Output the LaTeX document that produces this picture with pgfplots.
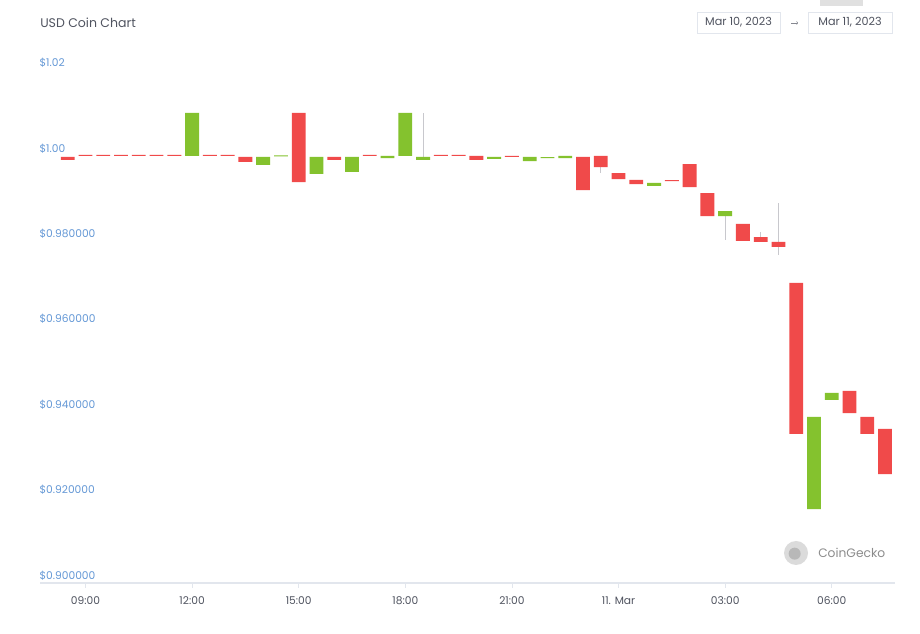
\documentclass[border=0pt]{standalone}
\usepackage{pgfplots}
\pgfplotsset{compat=1.18}
\usepackage{pgfplotstable}
\usetikzlibrary{arrows.meta}
\usepackage{fontspec}
\setmainfont{Poppins}
\definecolor{cgreen}{RGB}{132,194,46}
\definecolor{cred}{RGB}{240,74,74}
\definecolor{ylab}{RGB}{100,152,214}
\definecolor{txt}{RGB}{80,84,96}
\definecolor{axl}{RGB}{226,230,237}
\definecolor{wick}{RGB}{200,200,205}

\pgfplotstableread{
t    o      c      g
8.5  0.9998 0.9991 0
9.0  1.0000 1.0000 0
9.5  1.0000 1.0000 0
10.0 1.0000 1.0000 0
10.5 1.0000 1.0000 0
11.0 1.0000 1.0000 0
11.5 1.0000 1.0000 0
12.0 1.0000 1.0101 1
12.5 1.0000 1.0000 0
13.0 1.0000 1.0000 0
13.5 0.9998 0.9986 0
14.0 0.9979 0.9998 1
14.5 0.9999 0.9999 1
15.0 1.0101 0.9939 0
15.5 0.9958 0.9998 1
16.0 0.9998 0.9991 0
16.5 0.9963 0.9998 1
17.0 1.0000 1.0000 0
17.5 0.9995 1.0000 1
18.0 1.0000 1.0101 1
18.5 0.9991 0.9998 1
19.0 1.0000 1.0000 0
19.5 1.0000 1.0000 0
20.0 1.0000 0.9991 0
20.5 0.9993 0.9998 1
21.0 0.9998 0.9998 0
21.5 0.9988 0.9998 1
22.0 0.9995 0.9995 1
22.5 0.9995 1.0000 1
23.0 0.9998 0.9920 0
23.5 1.0000 0.9974 0
24.0 0.9960 0.9946 0
24.5 0.9944 0.9934 0
25.0 0.9930 0.9937 1
25.5 0.9941 0.9941 0
26.0 0.9981 0.9927 0
26.5 0.9913 0.9859 0
27.0 0.9859 0.9871 1
27.5 0.9841 0.9801 0
28.0 0.9810 0.9799 0
28.5 0.9799 0.9787 0
29.0 0.9703 0.9349 0
29.5 0.9173 0.9389 1
30.0 0.9429 0.9445 1
30.5 0.9450 0.9398 0
31.0 0.9389 0.9349 0
31.5 0.9361 0.9255 0
}\candles

\pgfplotsset{
  common/.style={
    at={(0,0)}, anchor=south west,
    scale only axis, width=641.25pt, height=384.3pt,
    xmin=7.72, xmax=31.78, ymin=0.90, ymax=1.02,
    clip=false,
  },
}

\begin{document}
\begin{tikzpicture}
\useasboundingbox[fill=white] (-30pt,-38.25pt) rectangle (660pt,437.25pt);

% header
\node[anchor=west, font=\fontsize{9.4}{11}\selectfont, text=txt, inner sep=0pt] at (0pt,420pt) {USD Coin Chart};
\node[draw=axl, line width=0.6pt, minimum width=62.25pt, minimum height=15.75pt, inner sep=0pt,
      font=\fontsize{8.4}{10}\selectfont, text=txt] at (523.9pt,420.4pt) {Mar 10, 2023};
\node[draw=axl, line width=0.6pt, minimum width=63pt, minimum height=15.75pt, inner sep=0pt,
      font=\fontsize{8.4}{10}\selectfont, text=txt] at (607.5pt,420.4pt) {Mar 11, 2023};
\draw[txt!70, line width=0.4pt, -{To[length=1.2pt]}] (563.5pt,420pt) -- (568.5pt,420pt);
\fill[black!12] (585pt,432.75pt) rectangle (617.25pt,437.25pt);

% watermark
\fill[black!14] (567pt,22.5pt) circle (9pt);
\fill[black!28] (566pt,22pt) circle (4.5pt);
\node[anchor=west, font=\fontsize{9.2}{11}\selectfont, text=black!45, inner sep=0pt] at (583.5pt,22.5pt) {CoinGecko};

% axis with ticks, labels and wicks
\begin{axis}[common,
  axis x line*=bottom, axis y line*=left,
  x axis line style={draw=axl, line width=0.8pt},
  y axis line style={draw=none},
  xtick={9,12,15,18,21,24,27,30},
  xticklabels={09:00,12:00,15:00,18:00,21:00,11. Mar,03:00,06:00},
  xtick style={draw=axl, line width=0.6pt},
  tick align=outside, major tick length=3.5pt,
  xticklabel style={font=\fontsize{8}{10}\selectfont, text=txt, yshift=-3pt},
  ytick={0.90,0.92,0.94,0.96,0.98,1.00,1.02},
  yticklabels={\$0.900000,\$0.920000,\$0.940000,\$0.960000,\$0.980000,\$1.00,\$1.02},
  ytick style={draw=none},
  yticklabel style={font=\fontsize{8}{10}\selectfont, text=ylab, anchor=south west, inner sep=0pt, xshift=3pt, yshift=2pt},
  unbounded coords=jump,
]
\addplot[wick, line width=0.6pt, no marks] coordinates {
 (18.5,0.9998) (18.5,1.0101) (18.5,nan)
 (23.5,0.9974) (23.5,0.9960) (23.5,nan)
 (27.0,0.9859) (27.0,0.9803) (27.0,nan)
 (28.0,0.9810) (28.0,0.9822) (28.0,nan)
 (28.5,0.9787) (28.5,0.9768) (28.5,nan)
 (28.5,0.9799) (28.5,0.9890)
};
\end{axis}

% candle bodies
\begin{axis}[common, axis lines=none, ybar stacked, bar width=0.39, ticks=none]
\addplot[draw=none, fill=none] table[x=t, y expr={min(\thisrow{o},\thisrow{c})}] {\candles};
\addplot[draw=none, fill=cgreen] table[x=t, y expr={\thisrow{g}*max(abs(\thisrow{c}-\thisrow{o}),0.00025)}] {\candles};
\addplot[draw=none, fill=cred] table[x=t, y expr={(1-\thisrow{g})*max(abs(\thisrow{c}-\thisrow{o}),0.00025)}] {\candles};
\end{axis}
\end{tikzpicture}
\end{document}
